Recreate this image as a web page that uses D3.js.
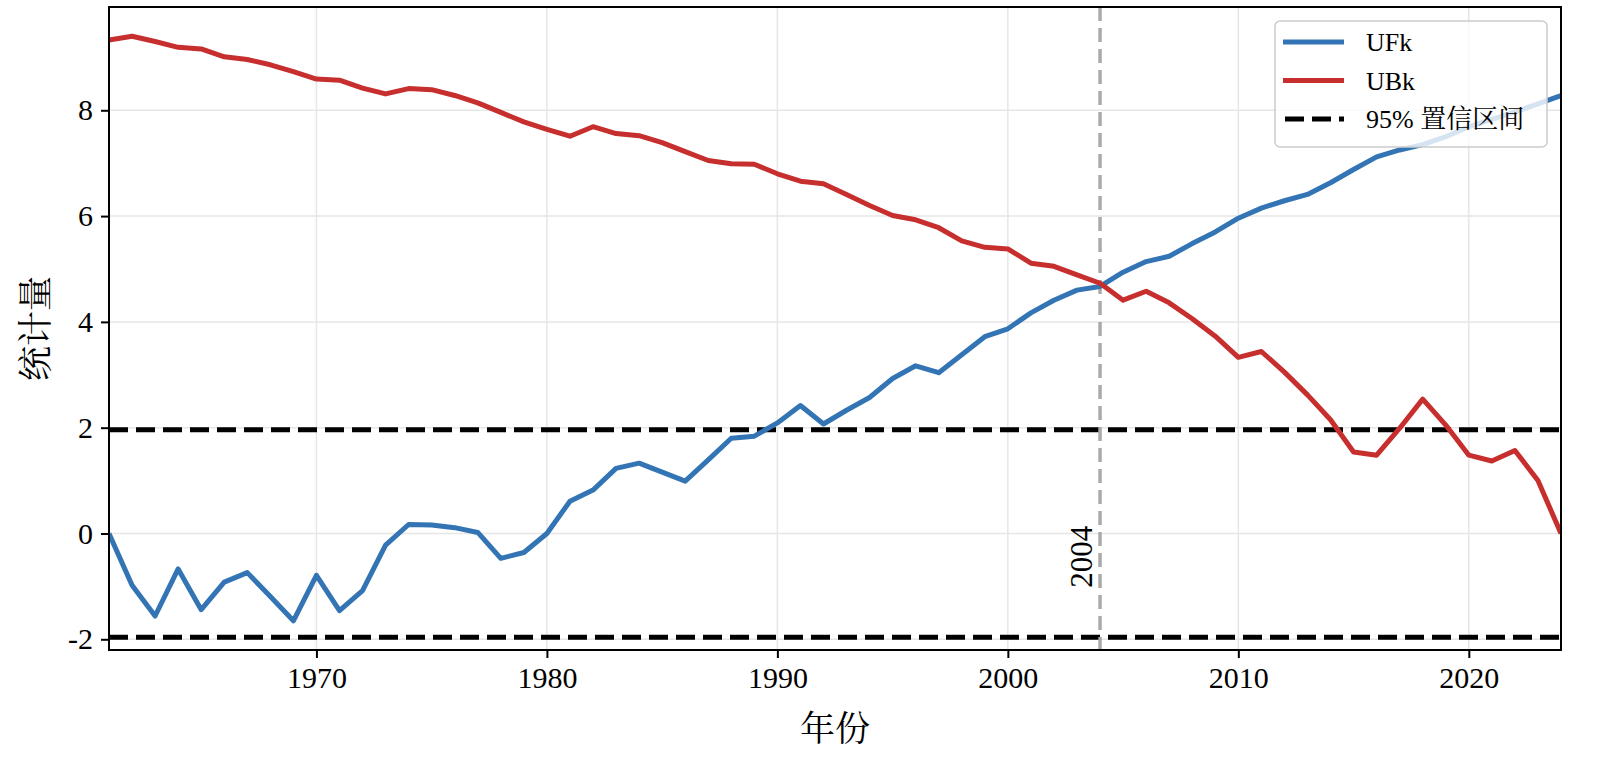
<!DOCTYPE html>
<html>
<head>
<meta charset="utf-8">
<title>UFk UBk</title>
<style>
  html, body { margin: 0; padding: 0; background: #fff; }
  svg text { font-family: "Liberation Serif", "Times New Roman", "Noto Serif CJK SC", "Noto Sans CJK SC", serif; }
</style>
<script src="https://d3js.org/d3.v7.min.js"></script>
</head>
<body>
<div id="chart"></div>
<script>
var years = [1961, 1962, 1963, 1964, 1965, 1966, 1967, 1968, 1969, 1970,
             1971, 1972, 1973, 1974, 1975, 1976, 1977, 1978, 1979, 1980,
             1981, 1982, 1983, 1984, 1985, 1986, 1987, 1988, 1989, 1990,
             1991, 1992, 1993, 1994, 1995, 1996, 1997, 1998, 1999, 2000,
             2001, 2002, 2003, 2004, 2005, 2006, 2007, 2008, 2009, 2010,
             2011, 2012, 2013, 2014, 2015, 2016, 2017, 2018, 2019, 2020,
             2021, 2022, 2023, 2024];
var ufk = [0.00, -0.98, -1.56, -0.67, -1.44, -0.92, -0.74, -1.19, -1.65, -0.79,
           -1.46, -1.08, -0.22, 0.17, 0.16, 0.11, 0.02, -0.47, -0.36, 0.00,
           0.61, 0.82, 1.23, 1.33, 1.16, 0.99, 1.39, 1.80, 1.84, 2.09,
           2.42, 2.07, 2.33, 2.57, 2.93, 3.17, 3.04, 3.38, 3.72, 3.87,
           4.17, 4.41, 4.60, 4.67, 4.94, 5.14, 5.24, 5.48, 5.70, 5.96,
           6.15, 6.29, 6.41, 6.63, 6.88, 7.12, 7.25, 7.35, 7.50, 7.69,
           7.83, 7.97, 8.12, 8.28];
var ubk = [9.33, 9.40, 9.30, 9.19, 9.16, 9.01, 8.96, 8.86, 8.73, 8.59,
           8.57, 8.42, 8.31, 8.41, 8.39, 8.28, 8.14, 7.96, 7.78, 7.64,
           7.51, 7.69, 7.56, 7.52, 7.39, 7.22, 7.05, 6.99, 6.98, 6.80,
           6.66, 6.61, 6.41, 6.20, 6.01, 5.93, 5.78, 5.53, 5.41, 5.38,
           5.11, 5.05, 4.89, 4.73, 4.41, 4.58, 4.36, 4.06, 3.73, 3.33,
           3.44, 3.05, 2.62, 2.15, 1.54, 1.48, 1.99, 2.54, 2.05, 1.48,
           1.37, 1.57, 1.00, 0.00];
var confLevels = [1.96, -1.96];
var changeYear = 2004;
var xTicks = [1970, 1980, 1990, 2000, 2010, 2020];
var yTicks = [-2, 0, 2, 4, 6, 8];
var legendLabels = ["UFk", "UBk", "95% 置信区间"];

var W = 1600, H = 765;
var m = { left: 109, right: 39, top: 7, bottom: 115 };
var iw = W - m.left - m.right, ih = H - m.top - m.bottom;
var cjk = "Noto Serif CJK SC, Noto Sans CJK SC, serif";

var svg = d3.select("#chart").append("svg").attr("width", W).attr("height", H);
var g = svg.append("g").attr("transform", "translate(" + m.left + "," + m.top + ")");

var all = ufk.concat(ubk);
var lo = d3.min(all), hi = d3.max(all), pad = (hi - lo) * 0.05;
var x = d3.scaleLinear().domain([years[0], years[years.length - 1]]).range([0, iw]);
var y = d3.scaleLinear().domain([lo - pad, hi + pad]).range([ih, 0]);

// grid
g.selectAll(".gx").data(xTicks).enter().append("line")
  .attr("x1", d => x(d)).attr("x2", d => x(d)).attr("y1", 0).attr("y2", ih)
  .attr("stroke", "#e6e6e6").attr("stroke-width", 1.5);
g.selectAll(".gy").data(yTicks).enter().append("line")
  .attr("y1", d => y(d)).attr("y2", d => y(d)).attr("x1", 0).attr("x2", iw)
  .attr("stroke", "#e6e6e6").attr("stroke-width", 1.5);

svg.append("clipPath").attr("id", "clip").append("rect").attr("width", iw).attr("height", ih);
var plot = g.append("g").attr("clip-path", "url(#clip)");

// confidence lines
plot.selectAll(".conf").data(confLevels).enter().append("line")
  .attr("x1", 0).attr("x2", iw).attr("y1", d => y(d)).attr("y2", d => y(d))
  .attr("stroke", "#000").attr("stroke-width", 5).attr("stroke-dasharray", "19,8");

// change point line
plot.append("line")
  .attr("x1", x(changeYear)).attr("x2", x(changeYear)).attr("y1", 0).attr("y2", ih)
  .attr("stroke", "#aaaaaa").attr("stroke-width", 3.5).attr("stroke-dasharray", "14,7");

var line = d3.line().x((d, i) => x(years[i])).y(d => y(d));
plot.append("path").datum(ufk).attr("d", line)
  .attr("fill", "none").attr("stroke", "#3274b4").attr("stroke-width", 5).attr("stroke-linejoin", "round");
plot.append("path").datum(ubk).attr("d", line)
  .attr("fill", "none").attr("stroke", "#c62f2d").attr("stroke-width", 5).attr("stroke-linejoin", "round");

g.append("text")
  .attr("transform", "translate(" + (x(changeYear) - 8) + "," + (y(-0.44)) + ") rotate(-90)")
  .attr("text-anchor", "middle").attr("font-size", 31).text(String(changeYear));

// axes
var xAxis = g.append("g").attr("transform", "translate(0," + ih + ")")
  .call(d3.axisBottom(x).tickValues(xTicks).tickFormat(d3.format("d")).tickSize(8).tickPadding(9));
var yAxis = g.append("g")
  .call(d3.axisLeft(y).tickValues(yTicks).tickFormat(d => String(d)).tickSize(8).tickPadding(8));
[xAxis, yAxis].forEach(function (a) {
  a.select(".domain").remove();
  a.selectAll("line").attr("stroke", "#000").attr("stroke-width", 2);
  a.selectAll("text").attr("font-size", 30).attr("fill", "#000")
    .attr("font-family", "Liberation Serif, serif");
});

g.append("rect").attr("width", iw).attr("height", ih)
  .attr("fill", "none").attr("stroke", "#000").attr("stroke-width", 2);

svg.append("text").attr("x", m.left + iw / 2).attr("y", 741).attr("text-anchor", "middle")
  .attr("font-size", 35).attr("font-family", cjk).text("年份");
svg.append("text").attr("transform", "translate(48," + (m.top + ih / 2) + ") rotate(-90)")
  .attr("text-anchor", "middle").attr("font-size", 35)
  .attr("font-family", cjk).text("统计量");

// legend
var leg = svg.append("g").attr("transform", "translate(1275,21)");
leg.append("rect").attr("width", 272).attr("height", 126).attr("rx", 5)
  .attr("fill", "#fff").attr("fill-opacity", 0.8).attr("stroke", "#cccccc").attr("stroke-width", 1.5);
var styles = [
  { c: "#3274b4", w: 5, dash: null },
  { c: "#c62f2d", w: 5, dash: null },
  { c: "#000", w: 5, dash: "19,8" }
];
legendLabels.forEach(function (lab, i) {
  var yy = 21 + i * 38.5;
  var ln = leg.append("line").attr("x1", 8).attr("x2", 69).attr("y1", yy).attr("y2", yy)
    .attr("stroke", styles[i].c).attr("stroke-width", styles[i].w);
  if (styles[i].dash) ln.attr("stroke-dasharray", styles[i].dash).attr("stroke-dashoffset", -2);
  leg.append("text").attr("x", 91).attr("y", yy + 9).attr("font-size", 26).text(lab);
});
</script>
</body>
</html>
